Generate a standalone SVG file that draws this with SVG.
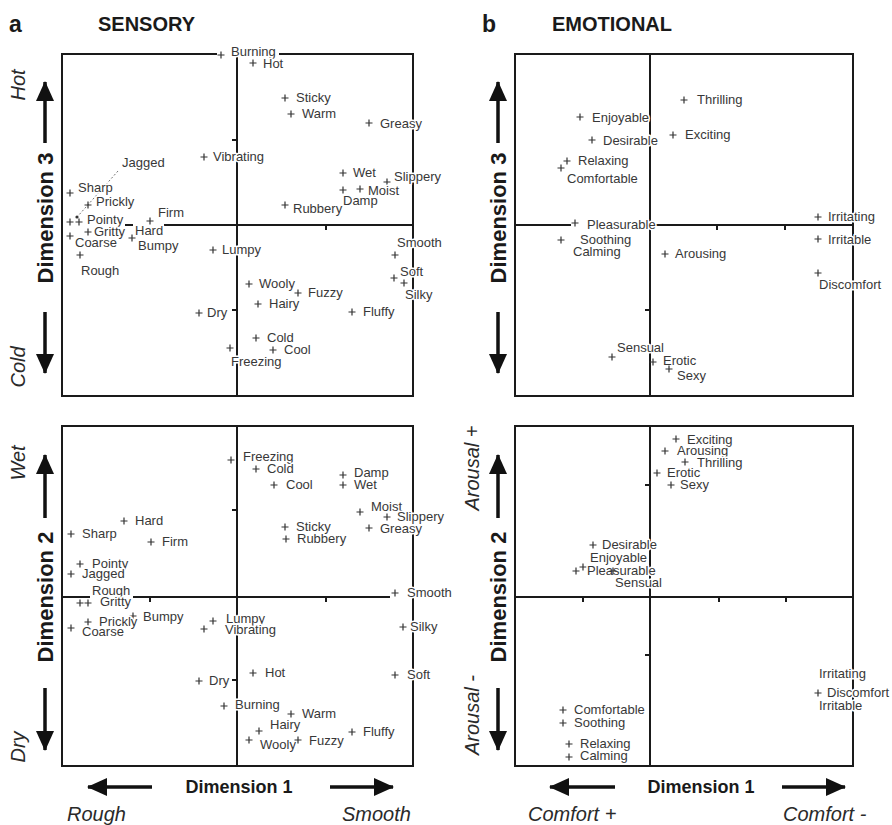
<svg xmlns="http://www.w3.org/2000/svg" xmlns:xlink="http://www.w3.org/1999/xlink" width="892" height="825" viewBox="0 0 892 825">
<style>
text{font-family:"Liberation Sans",Arial,Helvetica,sans-serif}
.l{font-size:13px;fill:#383838;paint-order:stroke;stroke:#fff;stroke-width:3px;stroke-linejoin:round}
.frame{fill:none;stroke:#1a1a1a;stroke-width:2}
.ax{fill:none;stroke:#1a1a1a;stroke-width:2}
.tk{fill:none;stroke:#1a1a1a;stroke-width:2}
.arr{fill:none;stroke:#111;stroke-width:3.5;marker-end:url(#ah)}
.ttl{font-size:20px;font-weight:bold;fill:#1a1a1a}
.pl{font-size:23px;font-weight:bold;fill:#1a1a1a}
.dim{font-size:22px;font-weight:bold;fill:#1a1a1a;text-anchor:middle}
.dim1{font-size:18px;font-weight:bold;fill:#1a1a1a;text-anchor:middle}
.it{font-size:20px;font-style:italic;fill:#2a2a2a}
.itm{font-size:20px;font-style:italic;fill:#2a2a2a;text-anchor:middle}
.lead{fill:none;stroke:#777;stroke-width:1;stroke-dasharray:2 2}
</style>
<defs>
<path id="pt" d="M-3.5 0H3.5M0 -3.5V3.5" fill="none" stroke="#333" stroke-width="1.2"/>
<marker id="ah" markerUnits="userSpaceOnUse" viewBox="0 0 20 18" refX="19" refY="9" markerWidth="20" markerHeight="18" orient="auto">
<path d="M0 0L20 9L0 18Z" fill="#111"/>
</marker>
</defs>
<rect width="892" height="825" fill="#fff"/>

<g id="headings">
<text class="pl" x="9" y="32">a</text>
<text class="ttl" x="98" y="31">SENSORY</text>
<text class="pl" x="482" y="32">b</text>
<text class="ttl" x="552" y="31">EMOTIONAL</text>
</g>

<g id="axis-labels">
<line class="arr" x1="45" y1="143" x2="45" y2="82"/>
<line class="arr" x1="45" y1="312" x2="45" y2="373"/>
<text class="dim" transform="translate(53 218) rotate(-90)">Dimension 3</text>
<text class="itm" transform="translate(25 85) rotate(-90)">Hot</text>
<text class="itm" transform="translate(25 367) rotate(-90)">Cold</text>

<line class="arr" x1="45" y1="518" x2="45" y2="455"/>
<line class="arr" x1="45" y1="688" x2="45" y2="750"/>
<text class="dim" transform="translate(53 597) rotate(-90)">Dimension 2</text>
<text class="itm" transform="translate(25 463) rotate(-90)">Wet</text>
<text class="itm" transform="translate(25 747) rotate(-90)">Dry</text>

<line class="arr" x1="498" y1="143" x2="498" y2="82"/>
<line class="arr" x1="498" y1="312" x2="498" y2="373"/>
<text class="dim" transform="translate(506 218) rotate(-90)">Dimension 3</text>

<line class="arr" x1="498" y1="518" x2="498" y2="455"/>
<line class="arr" x1="498" y1="688" x2="498" y2="750"/>
<text class="dim" transform="translate(506 597) rotate(-90)">Dimension 2</text>
<text class="itm" transform="translate(479 468) rotate(-90)">Arousal +</text>
<text class="itm" transform="translate(479 715) rotate(-90)">Arousal -</text>

<line class="arr" x1="152" y1="787" x2="88" y2="787"/>
<line class="arr" x1="330" y1="787" x2="393" y2="787"/>
<text class="dim1" x="239" y="793">Dimension 1</text>
<text class="it" x="67" y="821">Rough</text>
<text class="it" x="342" y="821">Smooth</text>

<line class="arr" x1="615" y1="787" x2="550" y2="787"/>
<line class="arr" x1="782" y1="787" x2="845" y2="787"/>
<text class="dim1" x="701" y="793">Dimension 1</text>
<text class="it" x="528" y="821">Comfort +</text>
<text class="it" x="783" y="821">Comfort -</text>
</g>

<g id="frames-axes">
<path class="frame" d="M217 54H62V396H413V54H279"/>
<path class="ax" d="M237 54V396M164 225H413M125 225H133"/>
<path class="tk" d="M232 140H237M232 310H237M326 225V230"/>

<path class="frame" d="M62 426H413V766H62Z"/>
<path class="ax" d="M237 426V766M62 597H90M133 597H390"/>
<path class="tk" d="M232 510H237M232 680H237M150 597V602M326 597V602"/>

<path class="frame" d="M515 54H853V396H515Z"/>
<path class="ax" d="M650 54V396M515 225H571M655 225H853"/>
<path class="tk" d="M645 310H650M717 225V230M785 225V230"/>

<path class="frame" d="M515 426H853V766H515Z"/>
<path class="ax" d="M650 426V766M515 597H853"/>
<path class="tk" d="M645 485H650M645 655H650M583 597V602M719 597V602M786 597V602"/>
</g>

<g id="sensory-dim3">
<g id="s3-burning"><text class="l" x="231" y="56">Burning</text><use href="#pt" x="221" y="55"/></g>
<g id="s3-hot"><text class="l" x="263" y="68">Hot</text><use href="#pt" x="253" y="63"/></g>
<g id="s3-sticky"><text class="l" x="296" y="102">Sticky</text><use href="#pt" x="285" y="98"/></g>
<g id="s3-warm"><text class="l" x="302" y="118">Warm</text><use href="#pt" x="291" y="114"/></g>
<g id="s3-greasy"><text class="l" x="380" y="128">Greasy</text><use href="#pt" x="369" y="123"/></g>
<g id="s3-vibrating"><text class="l" x="213" y="161">Vibrating</text><use href="#pt" x="204" y="157"/></g>
<g id="s3-wet"><text class="l" x="353" y="177">Wet</text><use href="#pt" x="343" y="173"/></g>
<g id="s3-slippery"><text class="l" x="394" y="181">Slippery</text><use href="#pt" x="387" y="182"/></g>
<g id="s3-damp"><text class="l" x="343" y="205">Damp</text><use href="#pt" x="343" y="190"/></g>
<g id="s3-moist"><text class="l" x="368" y="195">Moist</text><use href="#pt" x="360" y="189"/></g>
<g id="s3-rubbery"><text class="l" x="293" y="213">Rubbery</text><use href="#pt" x="285" y="205"/></g>
<g id="s3-jagged"><path class="lead" d="M118 171L78 216"/><circle cx="77" cy="217" r="1.6" fill="#333"/><text class="l" x="122" y="167">Jagged</text></g>
<g id="s3-sharp"><text class="l" x="78" y="192">Sharp</text><use href="#pt" x="70" y="193"/></g>
<g id="s3-prickly"><text class="l" x="96" y="206">Prickly</text><use href="#pt" x="88" y="205"/></g>
<g id="s3-pointy"><text class="l" x="87" y="224">Pointy</text><use href="#pt" x="79" y="222"/><use href="#pt" x="70" y="222"/></g>
<g id="s3-gritty"><text class="l" x="94" y="236">Gritty</text><use href="#pt" x="88" y="232"/></g>
<g id="s3-hard"><text class="l" x="135" y="235">Hard</text></g>
<g id="s3-bumpy"><text class="l" x="138" y="250">Bumpy</text><use href="#pt" x="132" y="238"/></g>
<g id="s3-firm"><text class="l" x="158" y="217">Firm</text><use href="#pt" x="150" y="221"/></g>
<g id="s3-coarse"><text class="l" x="75" y="247">Coarse</text><use href="#pt" x="70" y="236"/></g>
<g id="s3-rough"><text class="l" x="81" y="275">Rough</text><use href="#pt" x="80" y="255"/></g>
<g id="s3-lumpy"><text class="l" x="222" y="254">Lumpy</text><use href="#pt" x="213" y="250"/></g>
<g id="s3-smooth"><text class="l" x="397" y="247">Smooth</text><use href="#pt" x="395" y="255"/></g>
<g id="s3-soft"><text class="l" x="400" y="276">Soft</text><use href="#pt" x="394" y="278"/></g>
<g id="s3-silky"><text class="l" x="405" y="299">Silky</text><use href="#pt" x="404" y="283"/></g>
<g id="s3-wooly"><text class="l" x="259" y="288">Wooly</text><use href="#pt" x="249" y="284"/></g>
<g id="s3-fuzzy"><text class="l" x="308" y="297">Fuzzy</text><use href="#pt" x="298" y="293"/></g>
<g id="s3-hairy"><text class="l" x="269" y="308">Hairy</text><use href="#pt" x="258" y="304"/></g>
<g id="s3-fluffy"><text class="l" x="363" y="316">Fluffy</text><use href="#pt" x="352" y="312"/></g>
<g id="s3-dry"><text class="l" x="207" y="317">Dry</text><use href="#pt" x="199" y="313"/></g>
<g id="s3-cold"><text class="l" x="267" y="342">Cold</text><use href="#pt" x="256" y="338"/></g>
<g id="s3-cool"><text class="l" x="284" y="354">Cool</text><use href="#pt" x="273" y="350"/></g>
<g id="s3-freezing"><text class="l" x="231" y="366">Freezing</text><use href="#pt" x="230" y="348"/></g>
</g>

<g id="emotional-dim3">
<g id="e3-enjoyable"><text class="l" x="592" y="122">Enjoyable</text><use href="#pt" x="580" y="117"/></g>
<g id="e3-desirable"><text class="l" x="603" y="145">Desirable</text><use href="#pt" x="592" y="140"/></g>
<g id="e3-relaxing"><text class="l" x="578" y="165">Relaxing</text><use href="#pt" x="567" y="161"/></g>
<g id="e3-comfortable"><text class="l" x="567" y="183">Comfortable</text><use href="#pt" x="561" y="168"/></g>
<g id="e3-thrilling"><text class="l" x="697" y="104">Thrilling</text><use href="#pt" x="684" y="100"/></g>
<g id="e3-exciting"><text class="l" x="685" y="139">Exciting</text><use href="#pt" x="673" y="135"/></g>
<g id="e3-pleasurable"><text class="l" x="587" y="229">Pleasurable</text><use href="#pt" x="575" y="223"/></g>
<g id="e3-soothing"><text class="l" x="580" y="244">Soothing</text><use href="#pt" x="561" y="240"/></g>
<g id="e3-calming"><text class="l" x="573" y="256">Calming</text></g>
<g id="e3-arousing"><text class="l" x="675" y="258">Arousing</text><use href="#pt" x="665" y="254"/></g>
<g id="e3-irritating"><text class="l" x="828" y="221">Irritating</text><use href="#pt" x="818" y="217"/></g>
<g id="e3-irritable"><text class="l" x="828" y="244">Irritable</text><use href="#pt" x="818" y="239"/></g>
<g id="e3-discomfort"><text class="l" x="819" y="289">Discomfort</text><use href="#pt" x="818" y="273"/></g>
<g id="e3-sensual"><text class="l" x="617" y="352">Sensual</text><use href="#pt" x="612" y="357"/></g>
<g id="e3-erotic"><text class="l" x="663" y="365">Erotic</text><use href="#pt" x="653" y="362"/></g>
<g id="e3-sexy"><text class="l" x="677" y="380">Sexy</text><use href="#pt" x="669" y="369"/></g>
</g>

<g id="sensory-dim2">
<g id="s2-freezing"><text class="l" x="243" y="461">Freezing</text><use href="#pt" x="231" y="460"/></g>
<g id="s2-cold"><text class="l" x="267" y="473">Cold</text><use href="#pt" x="256" y="469"/></g>
<g id="s2-cool"><text class="l" x="286" y="489">Cool</text><use href="#pt" x="274" y="485"/></g>
<g id="s2-damp"><text class="l" x="354" y="477">Damp</text><use href="#pt" x="343" y="475"/></g>
<g id="s2-wet"><text class="l" x="354" y="489">Wet</text><use href="#pt" x="343" y="485"/></g>
<g id="s2-moist"><text class="l" x="371" y="511">Moist</text><use href="#pt" x="360" y="512"/></g>
<g id="s2-slippery"><text class="l" x="397" y="521">Slippery</text><use href="#pt" x="387" y="517"/></g>
<g id="s2-greasy"><text class="l" x="380" y="533">Greasy</text><use href="#pt" x="369" y="528"/></g>
<g id="s2-sticky"><text class="l" x="296" y="531">Sticky</text><use href="#pt" x="285" y="527"/></g>
<g id="s2-rubbery"><text class="l" x="297" y="543">Rubbery</text><use href="#pt" x="286" y="539"/></g>
<g id="s2-hard"><text class="l" x="135" y="525">Hard</text><use href="#pt" x="124" y="521"/></g>
<g id="s2-sharp"><text class="l" x="82" y="538">Sharp</text><use href="#pt" x="71" y="534"/></g>
<g id="s2-firm"><text class="l" x="162" y="546">Firm</text><use href="#pt" x="151" y="542"/></g>
<g id="s2-pointy"><text class="l" x="92" y="568">Pointy</text><use href="#pt" x="80" y="564"/></g>
<g id="s2-jagged"><text class="l" x="82" y="578">Jagged</text><use href="#pt" x="71" y="574"/></g>
<g id="s2-rough"><text class="l" x="92" y="595">Rough</text><use href="#pt" x="80" y="603"/></g>
<g id="s2-gritty"><text class="l" x="100" y="606">Gritty</text><use href="#pt" x="88" y="603"/></g>
<g id="s2-bumpy"><text class="l" x="143" y="621">Bumpy</text><use href="#pt" x="133" y="616"/></g>
<g id="s2-prickly"><text class="l" x="99" y="626">Prickly</text><use href="#pt" x="88" y="622"/></g>
<g id="s2-coarse"><text class="l" x="82" y="636">Coarse</text><use href="#pt" x="71" y="628"/></g>
<g id="s2-lumpy"><text class="l" x="226" y="623">Lumpy</text><use href="#pt" x="213" y="621"/></g>
<g id="s2-vibrating"><text class="l" x="225" y="634">Vibrating</text><use href="#pt" x="204" y="629"/></g>
<g id="s2-smooth"><text class="l" x="407" y="597">Smooth</text><use href="#pt" x="395" y="593"/></g>
<g id="s2-silky"><text class="l" x="410" y="631">Silky</text><use href="#pt" x="403" y="627"/></g>
<g id="s2-hot"><text class="l" x="265" y="677">Hot</text><use href="#pt" x="253" y="673"/></g>
<g id="s2-soft"><text class="l" x="407" y="679">Soft</text><use href="#pt" x="395" y="675"/></g>
<g id="s2-dry"><text class="l" x="209" y="685">Dry</text><use href="#pt" x="199" y="681"/></g>
<g id="s2-burning"><text class="l" x="235" y="709">Burning</text><use href="#pt" x="224" y="706"/></g>
<g id="s2-warm"><text class="l" x="302" y="718">Warm</text><use href="#pt" x="291" y="714"/></g>
<g id="s2-hairy"><text class="l" x="270" y="729">Hairy</text><use href="#pt" x="259" y="731"/></g>
<g id="s2-wooly"><text class="l" x="260" y="749">Wooly</text><use href="#pt" x="249" y="740"/></g>
<g id="s2-fuzzy"><text class="l" x="309" y="745">Fuzzy</text><use href="#pt" x="298" y="740"/></g>
<g id="s2-fluffy"><text class="l" x="363" y="736">Fluffy</text><use href="#pt" x="352" y="732"/></g>
</g>

<g id="emotional-dim2">
<g id="e2-exciting"><text class="l" x="687" y="444">Exciting</text><use href="#pt" x="676" y="439"/></g>
<g id="e2-arousing"><text class="l" x="677" y="455">Arousing</text><use href="#pt" x="665" y="451"/></g>
<g id="e2-thrilling"><text class="l" x="697" y="467">Thrilling</text><use href="#pt" x="685" y="462"/></g>
<g id="e2-erotic"><text class="l" x="667" y="477">Erotic</text><use href="#pt" x="657" y="473"/></g>
<g id="e2-sexy"><text class="l" x="680" y="489">Sexy</text><use href="#pt" x="671" y="485"/></g>
<g id="e2-desirable"><text class="l" x="602" y="549">Desirable</text><use href="#pt" x="593" y="545"/></g>
<g id="e2-enjoyable"><text class="l" x="590" y="562">Enjoyable</text><use href="#pt" x="583" y="567"/></g>
<g id="e2-pleasurable"><text class="l" x="587" y="575">Pleasurable</text><use href="#pt" x="576" y="571"/></g>
<g id="e2-sensual"><text class="l" x="615" y="587">Sensual</text><use href="#pt" x="613" y="571"/></g>
<g id="e2-comfortable"><text class="l" x="574" y="714">Comfortable</text><use href="#pt" x="563" y="710"/></g>
<g id="e2-soothing"><text class="l" x="574" y="727">Soothing</text><use href="#pt" x="563" y="723"/></g>
<g id="e2-relaxing"><text class="l" x="580" y="748">Relaxing</text><use href="#pt" x="569" y="744"/></g>
<g id="e2-calming"><text class="l" x="580" y="760">Calming</text><use href="#pt" x="569" y="757"/></g>
<g id="e2-irritating"><text class="l" x="819" y="678">Irritating</text></g>
<g id="e2-discomfort"><text class="l" x="827" y="697">Discomfort</text><use href="#pt" x="818" y="693"/></g>
<g id="e2-irritable"><text class="l" x="819" y="710">Irritable</text></g>
</g>
</svg>
